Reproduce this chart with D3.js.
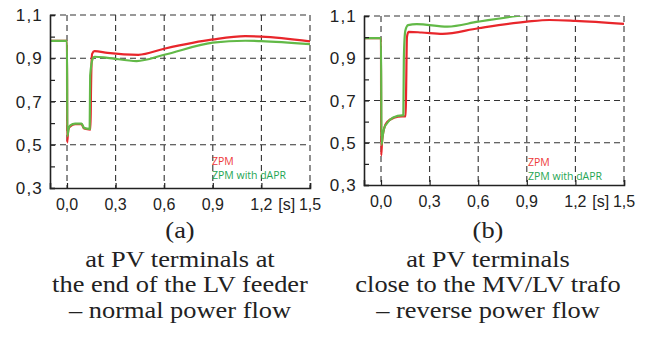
<!DOCTYPE html>
<html>
<head>
<meta charset="utf-8">
<script src="https://cdn.jsdelivr.net/npm/d3@7"></script>
<style>
  body { margin: 0; background: #fff; }
  svg { display: block; }
</style>
</head>
<body>
<div id="chart"></div>
<script>
// ---------- data ----------
let xTicks = [0, 0.3, 0.6, 0.9, 1.2, 1.5];
let yTicks = [0.3, 0.5, 0.7, 0.9, 1.1];
let yMinor = [0.4, 0.6, 0.8, 1.0];
let legendLabels = ["ZPM", "ZPM with dAPR"];

// (a) end of LV feeder
let aZpmT = [-0.105, 0.0, 0.001, 0.008, 0.02, 0.05, 0.09, 0.105, 0.145, 0.148, 0.155, 0.17, 0.25, 0.44, 0.6, 0.9, 1.1, 1.2, 1.5];
let aZpmV = [0.98, 0.98, 0.51, 0.57, 0.585, 0.595, 0.595, 0.575, 0.57, 0.75, 0.92, 0.933, 0.925, 0.916, 0.944, 0.987, 1.002, 1.0, 0.978];
let aDaprT = [-0.105, 0.0, 0.002, 0.01, 0.02, 0.05, 0.09, 0.105, 0.14, 0.143, 0.16, 0.17, 0.25, 0.43, 0.6, 0.9, 1.1, 1.2, 1.5];
let aDaprV = [0.98, 0.98, 0.54, 0.575, 0.59, 0.598, 0.598, 0.578, 0.573, 0.82, 0.9, 0.907, 0.902, 0.887, 0.916, 0.972, 0.981, 0.979, 0.965];

// (b) close to MV/LV trafo
let bZpmT = [-0.105, 0.0, 0.001, 0.006, 0.02, 0.04, 0.08, 0.13, 0.152, 0.155, 0.16, 0.17, 0.25, 0.38, 0.6, 0.9, 1.04, 1.2, 1.5];
let bZpmV = [0.995, 0.995, 0.44, 0.5, 0.57, 0.6, 0.618, 0.625, 0.625, 0.75, 1.0, 1.025, 1.022, 1.015, 1.042, 1.073, 1.081, 1.077, 1.063];
let bDaprT = [-0.105, 0.0, 0.003, 0.01, 0.02, 0.035, 0.075, 0.13, 0.138, 0.141, 0.15, 0.167, 0.22, 0.41, 0.6, 0.84, 0.9];
let bDaprV = [0.995, 0.995, 0.49, 0.53, 0.57, 0.59, 0.62, 0.63, 0.63, 0.9, 1.03, 1.057, 1.062, 1.05, 1.073, 1.1, 1.106];

let captionA = ["(a)", "at PV terminals at", "the end of the LV feeder", "\u2013 normal power flow"];
let captionB = ["(b)", "at PV terminals", "close to the MV/LV trafo", "\u2013 reverse power flow"];

// ---------- setup ----------
let width = 647, height = 338;
let svg = d3.select("#chart").append("svg")
  .attr("width", width)
  .attr("height", height);

let redColor = "#e8262b", greenColor = "#62b947";
let sans = "'Liberation Sans', Arial, sans-serif";
let serif = "'Liberation Serif', 'Times New Roman', serif";
let fmt = v => d3.format(".1f")(v).replace(".", ",");

function drawPanel(id, left, right, top, bottom, capX, zpmT, zpmV, daprT, daprV, caption, legX, legDy) {
  let x = d3.scaleLinear().domain([-0.105, 1.5]).range([left, right]);
  let y = d3.scaleLinear().domain([0.3, 1.1]).range([bottom, top]);
  let g = svg.append("g").attr("id", id);

  // dashed grid
  g.append("g").selectAll("line").data(xTicks).enter().append("line")
    .attr("x1", d => x(d)).attr("x2", d => x(d))
    .attr("y1", top).attr("y2", bottom)
    .attr("stroke", "#333").attr("stroke-width", 1.1).attr("stroke-dasharray", "6,4");
  g.append("g").selectAll("line").data(yTicks.slice(1)).enter().append("line")
    .attr("x1", left).attr("x2", right)
    .attr("y1", d => y(d)).attr("y2", d => y(d))
    .attr("stroke", "#333").attr("stroke-width", 1.1).attr("stroke-dasharray", "6,4");

  // lines
  g.append("clipPath").attr("id", id + "clip").append("rect")
    .attr("x", left).attr("y", top).attr("width", right - left).attr("height", bottom - top);
  let line = d3.line().x(d => x(d[0])).y(d => y(d[1])).curve(d3.curveMonotoneX);
  g.append("path").datum(d3.zip(zpmT, zpmV))
    .attr("d", line).attr("fill", "none").attr("stroke", redColor).attr("stroke-width", 2.2)
    .attr("clip-path", `url(#${id}clip)`);
  g.append("path").datum(d3.zip(daprT, daprV))
    .attr("d", line).attr("fill", "none").attr("stroke", greenColor).attr("stroke-width", 2.2)
    .attr("clip-path", `url(#${id}clip)`);

  // axes (solid left and bottom)
  let yAx = g.append("g").attr("transform", `translate(${left},0)`)
    .call(d3.axisRight(y).tickValues(yTicks.concat(yMinor)).tickSize(5).tickFormat(""));
  let xAx = g.append("g").attr("transform", `translate(0,${bottom})`)
    .call(d3.axisTop(x).tickValues(xTicks).tickSize(5).tickFormat(""));
  [yAx, xAx].forEach(a => {
    a.select(".domain").attr("stroke", "#222").attr("stroke-width", 1.6);
    a.selectAll(".tick line").attr("stroke", "#222").attr("stroke-width", 1.2);
  });

  // tick labels
  g.append("g").selectAll("text").data(yTicks).enter().append("text")
    .attr("x", left - 7).attr("y", d => y(d)).attr("dy", "0.36em")
    .attr("text-anchor", "end")
    .style("font-family", sans).style("font-size", "17px")
    .style("letter-spacing", "1.2px").attr("fill", "#222")
    .text(fmt);
  g.append("g").selectAll("text").data(xTicks).enter().append("text")
    .attr("x", d => x(d)).attr("y", bottom + 22)
    .attr("text-anchor", "middle")
    .style("font-family", sans).style("font-size", "16px")
    .attr("fill", "#222")
    .text(fmt);
  g.append("text")
    .attr("x", (x(1.2) + x(1.5)) / 2 + 1).attr("y", bottom + 22)
    .attr("text-anchor", "middle")
    .style("font-family", sans).style("font-size", "16px")
    .attr("fill", "#222").text("[s]");

  // legend
  g.append("text").attr("x", legX).attr("y", bottom - legDy[0]).attr("dy", "0.35em")
    .style("font-family", "'Open Sans', sans-serif").style("font-size", "10.5px")
    .attr("fill", "#ee3a3a").text(legendLabels[0]);
  g.append("text").attr("x", legX).attr("y", bottom - legDy[1]).attr("dy", "0.35em")
    .style("font-family", "'Open Sans', sans-serif").style("font-size", "10.5px")
    .attr("fill", "#1fa653").text(legendLabels[1]);

  // caption (the reference type is a little wider than Times, so stretch it)
  let capY = [238, 267, 292, 318];
  g.append("g").selectAll("text").data(caption).enter().append("text")
    .attr("transform", (d, i) => `translate(${capX},${capY[i]}) scale(1.1,1)`)
    .attr("text-anchor", "middle")
    .style("font-family", serif).style("font-size", "24px")
    .attr("fill", "#222").text(d => d);
}

drawPanel("pa", 50, 310, 15, 188, 180, aZpmT, aZpmV, aDaprT, aDaprV, captionA, 212, [27, 13]);
drawPanel("pb", 364, 624, 16, 185, 488, bZpmT, bZpmV, bDaprT, bDaprV, captionB, 528, [23, 9]);
</script>
</body>
</html>
